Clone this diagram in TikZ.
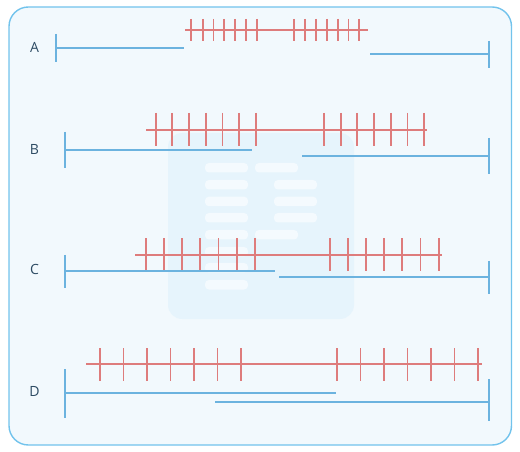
\documentclass[tikz,border=0pt]{standalone}
\usepackage{fontspec}
\setmainfont{Open Sans}
\usetikzlibrary{positioning}
\definecolor{framecol}{HTML}{72C3EC}
\definecolor{panelfill}{HTML}{F2F9FD}
\definecolor{markfill}{HTML}{E6F4FC}
\definecolor{barfill}{HTML}{F4FAFE}
\definecolor{redline}{HTML}{DE7C7C}
\definecolor{blueline}{HTML}{6CB3DF}
\definecolor{labelcol}{HTML}{2D4B63}
\tikzstyle{redseg} = [draw=redline, line width=1.1pt]
\tikzstyle{blueseg} = [draw=blueline, line width=1.1pt]
\tikzstyle{rowlabel} = [font=\fontsize{8}{10}\selectfont, text=labelcol, inner sep=0pt]
\tikzstyle{bar} = [fill=barfill, rounded corners=2.2pt]

\begin{document}
\begin{tikzpicture}[x=0.02cm, y=-0.02cm]
    \useasboundingbox (0,0) rectangle (520,452);
    % Panel
    \draw[framecol, line width=0.8pt, fill=panelfill, rounded corners=11pt] (9,7) rectangle (511.5,445);

    % Faint document mark
    \fill[markfill, rounded corners=8pt] (168,133) rectangle (354,319);
    \foreach \y in {163,180,196.7,213,230,247,263,280}
        \fill[bar] (205,\y) rectangle (248,\y+9.5);
    \foreach \y in {163,230}
        \fill[bar] (255,\y) rectangle (298,\y+9.5);
    \foreach \y in {180,196.7,213}
        \fill[bar] (274,\y) rectangle (317,\y+9.5);

    % Row A
    \node[rowlabel] (labA) at (34.5,47.7) {A};
    \draw[redseg] (185,30) -- (367.7,30);
    \foreach \x in {191,202.7,213.5,224.3,235.1,245.9,256.7,294,304.9,315.8,326.7,337.6,348.5,359.4}
        \draw[redseg] (\x,19) -- (\x,41);
    \draw[blueseg] (56,47.7) -- (184,47.7);
    \draw[blueseg] (56,34) -- (56,62);
    \draw[blueseg] (370,54) -- (489,54);
    \draw[blueseg] (489,41) -- (489,68);

    % Row B
    \node[rowlabel] (labB) at (34.5,149) {B};
    \draw[redseg] (146,129.7) -- (427,129.7);
    \foreach \x in {155.7,172.4,189.1,205.8,222.5,239.2,255.9,324,340.7,357.4,374.1,390.8,407.5,424.2}
        \draw[redseg] (\x,113) -- (\x,145.7);
    \draw[blueseg] (65,150) -- (252,150);
    \draw[blueseg] (65,132) -- (65,167.7);
    \draw[blueseg] (302,155.7) -- (489,155.7);
    \draw[blueseg] (489,138) -- (489,173.7);

    % Row C
    \node[rowlabel] (labC) at (34.5,269) {C};
    \draw[redseg] (135,255) -- (441.7,255);
    \foreach \x in {145.7,163.9,182.1,200.3,218.5,236.7,254.9,330,348.1,366.2,384.3,402.4,420.5,438.6}
        \draw[redseg] (\x,238.3) -- (\x,270.7);
    \draw[blueseg] (65,270.7) -- (274.7,270.7);
    \draw[blueseg] (65,255) -- (65,287.7);
    \draw[blueseg] (279,277.3) -- (489,277.3);
    \draw[blueseg] (489,261) -- (489,294.3);

    % Row D
    \node[rowlabel] (labD) at (34.5,391.7) {D};
    \draw[redseg] (86,364.3) -- (481.7,364.3);
    \foreach \x in {100,123.5,147,170.5,194,217.5,241,337,360.5,384,407.5,431,454.5,478}
        \draw[redseg] (\x,348) -- (\x,380.7);
    \draw[blueseg] (65,392.7) -- (336,392.7);
    \draw[blueseg] (65,369) -- (65,417.7);
    \draw[blueseg] (215,401.7) -- (489,401.7);
    \draw[blueseg] (489,379) -- (489,421);
\end{tikzpicture}
\end{document}
